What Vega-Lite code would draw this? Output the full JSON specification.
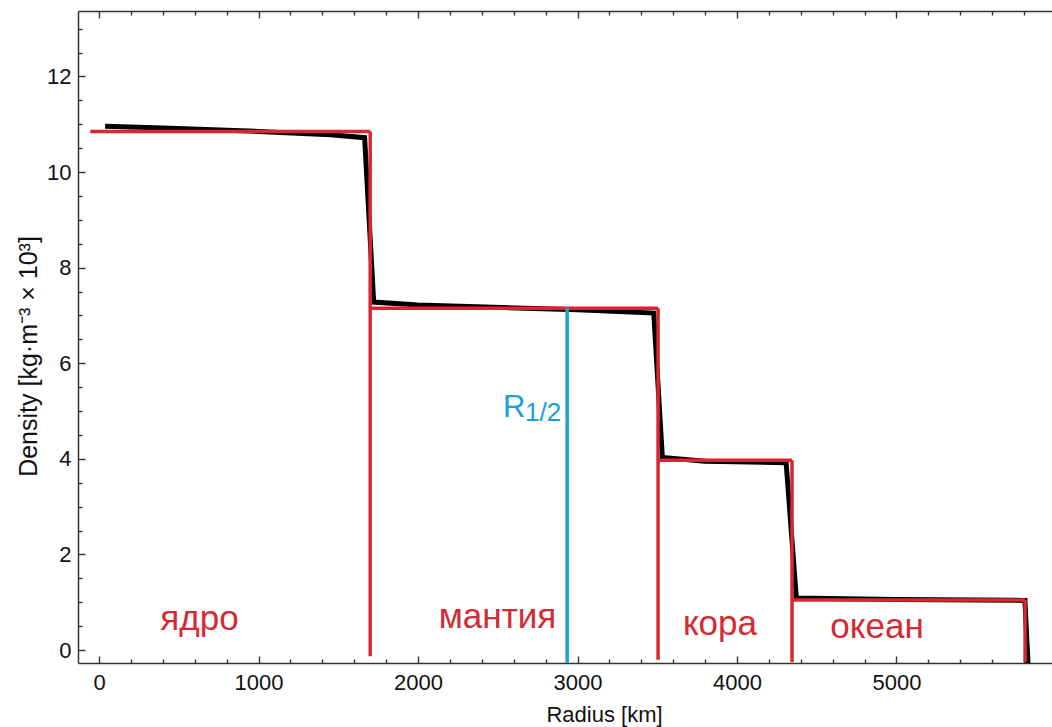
{
  "$schema": "https://vega.github.io/schema/vega-lite/v6.json",
  "width": 974,
  "height": 652,
  "autosize": {"type": "none"},
  "padding": {"left": 78, "top": 11, "right": 0, "bottom": 64},
  "background": "white",
  "config": {
    "view": {"stroke": null},
    "font": "Liberation Sans",
    "axis": {
      "domainColor": "#333333",
      "domainWidth": 1.5,
      "tickColor": "#333333",
      "tickWidth": 1.4,
      "labelFont": "Liberation Sans",
      "labelFontSize": 22,
      "labelColor": "#111111",
      "titleFont": "Liberation Sans",
      "titleFontSize": 22,
      "titleFontWeight": "normal",
      "titleColor": "#111111",
      "grid": false
    }
  },
  "datasets": {
    "model": [
      {"r": 38, "d": 10.96, "o": 1},
      {"r": 400, "d": 10.92, "o": 2},
      {"r": 1000, "d": 10.85, "o": 3},
      {"r": 1450, "d": 10.78, "o": 4},
      {"r": 1665, "d": 10.72, "o": 5},
      {"r": 1722, "d": 7.28, "o": 6},
      {"r": 2000, "d": 7.22, "o": 7},
      {"r": 3000, "d": 7.12, "o": 8},
      {"r": 3478, "d": 7.05, "o": 9},
      {"r": 3532, "d": 4.03, "o": 10},
      {"r": 3800, "d": 3.95, "o": 11},
      {"r": 4308, "d": 3.92, "o": 12},
      {"r": 4372, "d": 1.09, "o": 13},
      {"r": 5000, "d": 1.06, "o": 14},
      {"r": 5805, "d": 1.04, "o": 15},
      {"r": 5825, "d": -0.3, "o": 16}
    ],
    "layers": [
      {"x": -55, "x2": 1700, "y": 10.85, "y2": 10.85},
      {"x": 1700, "x2": 1700, "y": 10.85, "y2": -0.13},
      {"x": 1700, "x2": 3505, "y": 7.15, "y2": 7.15},
      {"x": 3505, "x2": 3505, "y": 7.15, "y2": -0.2},
      {"x": 3505, "x2": 4345, "y": 3.97, "y2": 3.97},
      {"x": 4345, "x2": 4345, "y": 3.97, "y2": -0.25},
      {"x": 4345, "x2": 5806, "y": 1.05, "y2": 1.05},
      {"x": 5806, "x2": 5806, "y": 1.05, "y2": -0.25}
    ],
    "half": [
      {"x": 2935, "y": 7.15, "y2": -0.27}
    ],
    "names": [
      {"t": "ядро", "r": 630, "d": 0.42},
      {"t": "мантия", "r": 2498, "d": 0.46},
      {"t": "кора", "r": 3893, "d": 0.31},
      {"t": "океан", "r": 4878, "d": 0.25}
    ],
    "rsym": [{"t": "R", "r": 2533, "d": 4.87}],
    "rsub": [{"t": "1/2", "r": 2671, "d": 4.79}]
  },
  "resolve": {"axis": {"x": "independent", "y": "independent"}},
  "layer": [
    {
      "data": {"name": "model"},
      "mark": {"type": "line", "color": "#000000", "strokeWidth": 5, "clip": true},
      "encoding": {
        "x": {
          "field": "r", "type": "quantitative",
          "scale": {"domain": [-132, 5975], "nice": false, "zero": false},
          "axis": {
            "orient": "bottom",
            "title": "Radius [km]",
            "titleX": 526,
            "titlePadding": 11,
            "values": [0, 1000, 2000, 3000, 4000, 5000],
            "format": "d",
            "labelFlush": false,
            "labelOverlap": false,
            "ticks": false,
            "labelPadding": 9
          }
        },
        "y": {
          "field": "d", "type": "quantitative",
          "scale": {"domain": [-0.27, 13.37], "nice": false, "zero": false},
          "axis": {
            "orient": "left",
            "title": "Density [kg·m⁻³ × 10³]",
            "titleFontSize": 25,
            "titleY": 345,
            "titlePadding": 5,
            "values": [0, 2, 4, 6, 8, 10, 12],
            "format": "d",
            "labelFlush": false,
            "labelOverlap": false,
            "ticks": false,
            "labelPadding": 7
          }
        },
        "order": {"field": "o", "type": "quantitative"}
      }
    },
    {
      "data": {"name": "layers"},
      "mark": {"type": "rule", "color": "#d9262f", "strokeWidth": 3.5},
      "encoding": {
        "x": {
          "field": "x", "type": "quantitative",
          "axis": {
            "orient": "bottom",
            "title": null,
            "labels": false,
            "domain": false,
            "offset": -7,
            "ticks": true,
            "tickSize": 7,
            "values": [0, 1000, 2000, 3000, 4000, 5000]
          }
        },
        "x2": {"field": "x2"},
        "y": {
          "field": "y", "type": "quantitative",
          "axis": {
            "orient": "left",
            "title": null,
            "labels": false,
            "domain": false,
            "offset": -7,
            "ticks": true,
            "tickSize": 7,
            "values": [0, 2, 4, 6, 8, 10, 12]
          }
        },
        "y2": {"field": "y2"}
      }
    },
    {
      "data": {"name": "half"},
      "mark": {"type": "rule", "color": "#1ba0d8", "strokeWidth": 3.5},
      "encoding": {
        "x": {
          "field": "x", "type": "quantitative",
          "axis": {
            "orient": "bottom",
            "title": null,
            "labels": false,
            "domain": false,
            "offset": -4,
            "ticks": true,
            "tickSize": 4,
            "values": [200, 400, 600, 800, 1200, 1400, 1600, 1800, 2200, 2400, 2600, 2800, 3200, 3400, 3600, 3800, 4200, 4400, 4600, 4800, 5200, 5400, 5600, 5800]
          }
        },
        "y": {
          "field": "y", "type": "quantitative",
          "axis": {
            "orient": "left",
            "title": null,
            "labels": false,
            "domain": false,
            "offset": -4,
            "ticks": true,
            "tickSize": 4,
            "values": [0.5, 1, 1.5, 2.5, 3, 3.5, 4.5, 5, 5.5, 6.5, 7, 7.5, 8.5, 9, 9.5, 10.5, 11, 11.5, 12.5, 13]
          }
        },
        "y2": {"field": "y2"}
      }
    },
    {
      "data": {"name": "names"},
      "mark": {"type": "text", "color": "#d42a33", "fontSize": 35, "font": "Liberation Sans", "align": "center", "baseline": "alphabetic"},
      "encoding": {
        "x": {
          "field": "r", "type": "quantitative",
          "axis": {
            "orient": "top",
            "title": null,
            "labels": false,
            "domain": true,
            "ticks": false,
            "values": [0, 1000, 2000, 3000, 4000, 5000]
          }
        },
        "y": {"field": "d", "type": "quantitative", "axis": null},
        "text": {"field": "t"}
      }
    },
    {
      "data": {"name": "rsym"},
      "mark": {"type": "text", "color": "#1ba0d8", "fontSize": 31, "font": "Liberation Sans", "align": "left", "baseline": "alphabetic"},
      "encoding": {
        "x": {
          "field": "r", "type": "quantitative",
          "axis": {
            "orient": "top",
            "title": null,
            "labels": false,
            "domain": false,
            "offset": -7,
            "ticks": true,
            "tickSize": 7,
            "values": [0, 1000, 2000, 3000, 4000, 5000]
          }
        },
        "y": {"field": "d", "type": "quantitative", "axis": null},
        "text": {"field": "t"}
      }
    },
    {
      "data": {"name": "rsub"},
      "mark": {"type": "text", "color": "#1ba0d8", "fontSize": 26, "font": "Liberation Sans", "align": "left", "baseline": "alphabetic"},
      "encoding": {
        "x": {
          "field": "r", "type": "quantitative",
          "axis": {
            "orient": "top",
            "title": null,
            "labels": false,
            "domain": false,
            "offset": -4,
            "ticks": true,
            "tickSize": 4,
            "values": [200, 400, 600, 800, 1200, 1400, 1600, 1800, 2200, 2400, 2600, 2800, 3200, 3400, 3600, 3800, 4200, 4400, 4600, 4800, 5200, 5400, 5600, 5800]
          }
        },
        "y": {"field": "d", "type": "quantitative", "axis": null},
        "text": {"field": "t"}
      }
    }
  ]
}
